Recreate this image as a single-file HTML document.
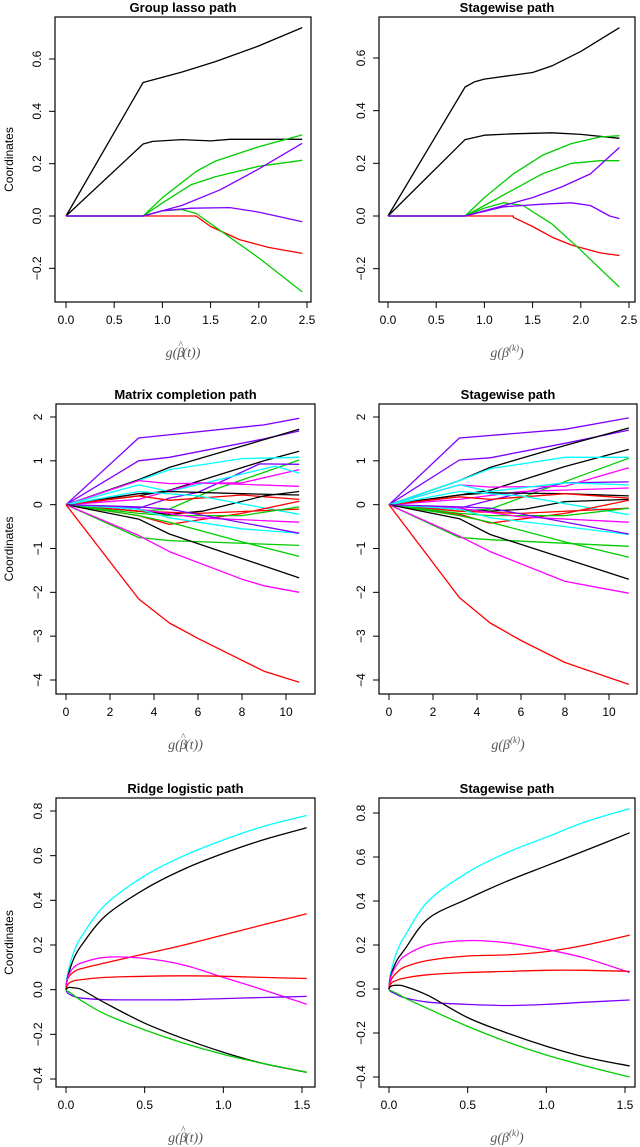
<!DOCTYPE html>
<html><head><meta charset="utf-8">
<style>
html,body{margin:0;padding:0;background:#fff;}
svg{display:block;}
text{font-family:"Liberation Sans",sans-serif;fill:#000;}
.t{font-weight:bold;font-size:13px;}
.tk{font-size:12px;}
.xl{font-family:"Liberation Serif",serif;font-style:italic;font-size:14px;fill:#555;}
</style></head>
<body>
<svg id="fig" width="640" height="1147" viewBox="0 0 640 1147" xmlns="http://www.w3.org/2000/svg"></svg>
<script>
const K='#000000',R='#ff0000',G='#00cd00',P='#7f00ff',C='#00ffff',M='#ff00ff';
// Panel 1: Group lasso path
const p1Colors=[K,K,G,G,R,G,P,P];
const p1Series=[
[[0,0],[0.8,0.51],[1.2,0.55],[1.4,0.573],[1.55,0.59],[2.0,0.65],[2.45,0.72]],
[[0,0],[0.8,0.275],[0.9,0.285],[1.2,0.292],[1.5,0.287],[1.7,0.293],[2.45,0.293]],
[[0,0],[0.8,0],[1.0,0.07],[1.35,0.17],[1.55,0.21],[2.0,0.265],[2.45,0.31]],
[[0,0],[0.8,0],[1.0,0.05],[1.3,0.12],[1.55,0.15],[2.0,0.19],[2.45,0.213]],
[[0,0],[1.35,0],[1.5,-0.04],[1.8,-0.09],[2.1,-0.12],[2.45,-0.143]],
[[0,0],[0.8,0],[1.0,0.02],[1.2,0.025],[1.35,0.01],[2.0,-0.16],[2.45,-0.29]],
[[0,0],[0.8,0],[1.2,0.04],[1.6,0.1],[2.0,0.18],[2.45,0.278]],
[[0,0],[0.8,0],[1.0,0.02],[1.3,0.03],[1.7,0.032],[2.0,0.015],[2.45,-0.022]]];
const p1XTicks=[0,0.5,1,1.5,2,2.5], p1XLabels=['0.0','0.5','1.0','1.5','2.0','2.5'];
const p1YTicks=[-0.2,0,0.2,0.4,0.6], p1YLabels=['−0.2','0.0','0.2','0.4','0.6'];
// Panel 2: Stagewise path
const p2Colors=[K,K,G,G,R,G,P,P];
const p2Series=[
[[0,0],[0.8,0.49],[0.9,0.51],[1.0,0.52],[1.3,0.535],[1.5,0.545],[1.7,0.57],[2.0,0.625],[2.4,0.715]],
[[0,0],[0.8,0.29],[1.0,0.307],[1.3,0.312],[1.7,0.316],[2.0,0.31],[2.4,0.295]],
[[0,0],[0.8,0],[1.0,0.07],[1.3,0.16],[1.6,0.23],[1.9,0.275],[2.2,0.3],[2.4,0.305]],
[[0,0],[0.8,0],[1.0,0.04],[1.3,0.1],[1.6,0.16],[1.9,0.2],[2.2,0.21],[2.4,0.21]],
[[0,0],[1.3,0],[1.3,-0.005],[1.5,-0.04],[1.7,-0.08],[1.9,-0.11],[2.0,-0.12],[2.2,-0.14],[2.4,-0.15]],
[[0,0],[0.8,0],[1.0,0.03],[1.2,0.05],[1.4,0.04],[1.7,-0.03],[2.0,-0.13],[2.2,-0.2],[2.4,-0.27]],
[[0,0],[0.8,0],[1.2,0.04],[1.5,0.07],[1.8,0.11],[2.1,0.16],[2.4,0.26]],
[[0,0],[0.8,0],[1.2,0.035],[1.6,0.045],[1.9,0.05],[2.1,0.04],[2.3,0.0],[2.4,-0.01]]];
const p2XTicks=p1XTicks, p2XLabels=p1XLabels, p2YTicks=p1YTicks, p2YLabels=p1YLabels;
// Panel 3: Matrix completion path
const p3Colors=[P,P,K,K,C,G,P,M,C,M,K,R,K,C,R,R,G,M,C,P,G,G,K,M,R];
const p3Series=[
[[0,0],[3.3,1.52],[9,1.82],[10.6,1.97]],
[[0,0],[3.3,1.0],[4.7,1.08],[9,1.5],[10.6,1.68]],
[[0,0],[3.3,0.57],[4.7,0.85],[10.6,1.72]],
[[0,0],[3.3,0.2],[4.7,0.33],[9,1.0],[10.6,1.22]],
[[0,0],[3.3,0.55],[4.7,0.8],[8,1.05],[10.6,1.08]],
[[0,0],[3.3,-0.15],[4.7,-0.1],[6.5,0.3],[10.6,1.02]],
[[0,0],[3.3,-0.08],[4.7,0.15],[6,0.28],[8.8,0.93],[10.6,0.92]],
[[0,0],[3.3,0.55],[4.7,0.48],[8,0.5],[10.6,0.8]],
[[0,0],[3.3,0.45],[4.7,0.3],[9.5,0.88],[10.6,0.72]],
[[0,0],[3.3,0.12],[6,0.5],[10.6,0.42]],
[[0,0],[3.3,0.25],[4.7,0.3],[8,0.25],[10.6,0.22]],
[[0,0],[3.3,0.2],[4.7,0.1],[8,0.22],[10.6,0.12]],
[[0,0],[3.3,-0.15],[4.7,-0.22],[6.2,-0.15],[9,0.2],[10.6,0.3]],
[[0,0],[3.3,0.3],[6,0.2],[10.6,-0.22]],
[[0,0],[3.3,-0.25],[4.7,-0.45],[8,-0.2],[10.6,0.08]],
[[0,0],[3.3,-0.15],[6,-0.2],[10.6,-0.1]],
[[0,0],[3.3,-0.2],[4.7,-0.25],[8,-0.25],[10.6,-0.05]],
[[0,0],[3.3,-0.1],[6,-0.3],[10.6,-0.4]],
[[0,0],[3.3,-0.1],[4.7,-0.3],[8,-0.55],[10.6,-0.65]],
[[0,0],[3.3,-0.05],[4.7,-0.1],[10.6,-0.65]],
[[0,0],[3.3,-0.75],[4.7,-0.82],[10.6,-0.93]],
[[0,0],[3.3,-0.25],[4.7,-0.4],[8,-0.85],[10.6,-1.18]],
[[0,0],[3.3,-0.33],[4.7,-0.67],[10.6,-1.67]],
[[0,0],[3.3,-0.7],[4.7,-1.07],[8,-1.7],[9,-1.85],[10.6,-2.0]],
[[0,0],[3.3,-2.15],[4.7,-2.7],[6,-3.05],[8,-3.55],[9,-3.8],[10.6,-4.05]]];
const p3XTicks=[0,2,4,6,8,10], p3XLabels=['0','2','4','6','8','10'];
const p3YTicks=[-4,-3,-2,-1,0,1,2], p3YLabels=['−4','−3','−2','−1','0','1','2'];
// Panel 4: Stagewise path
const p4Colors=p3Colors;
const p4Series=[
[[0,0],[3.2,1.52],[8,1.72],[10.9,1.98]],
[[0,0],[3.2,1.02],[4.6,1.07],[8,1.4],[10.9,1.7]],
[[0,0],[3.2,0.55],[4.6,0.85],[8,1.35],[10.9,1.75]],
[[0,0],[3.2,0.22],[4.6,0.33],[8,0.87],[10.9,1.26]],
[[0,0],[3.2,0.55],[4.6,0.82],[8,1.08],[10.9,1.08]],
[[0,0],[3.2,-0.15],[4.6,-0.1],[6.5,0.25],[10.9,1.06]],
[[0,0],[3.2,-0.08],[4.6,0.1],[8,0.5],[10.9,0.52]],
[[0,0],[3.2,0.45],[4.6,0.4],[8,0.42],[10.9,0.84]],
[[0,0],[3.2,0.45],[4.6,0.3],[8,0.5],[10.9,0.45]],
[[0,0],[3.2,0.12],[6,0.3],[10.9,0.38]],
[[0,0],[3.2,0.22],[4.6,0.27],[8,0.25],[10.9,0.2]],
[[0,0],[3.2,0.18],[4.6,0.12],[8,0.25],[10.9,0.15]],
[[0,0],[3.2,-0.1],[4.6,-0.15],[6.2,-0.1],[8,0.07],[10.9,0.12]],
[[0,0],[3.2,0.3],[6,0.2],[10.9,-0.23]],
[[0,0],[3.2,-0.22],[4.6,-0.42],[8,-0.2],[10.9,0.1]],
[[0,0],[3.2,-0.15],[6,-0.2],[10.9,-0.08]],
[[0,0],[3.2,-0.2],[4.6,-0.25],[8,-0.25],[10.9,-0.08]],
[[0,0],[3.2,-0.08],[6,-0.28],[10.9,-0.4]],
[[0,0],[3.2,-0.1],[4.6,-0.3],[8,-0.5],[10.9,-0.68]],
[[0,0],[3.2,-0.05],[4.6,-0.08],[10.9,-0.67]],
[[0,0],[3.2,-0.75],[4.6,-0.8],[10.9,-0.95]],
[[0,0],[3.2,-0.25],[4.6,-0.4],[8,-0.85],[10.9,-1.2]],
[[0,0],[3.2,-0.32],[4.6,-0.68],[10.9,-1.7]],
[[0,0],[3.2,-0.72],[4.6,-1.07],[8,-1.75],[10.9,-2.02]],
[[0,0],[3.2,-2.12],[4.6,-2.7],[6,-3.1],[8,-3.6],[10.9,-4.1]]];
const p4XTicks=p3XTicks, p4XLabels=p3XLabels, p4YTicks=p3YTicks, p4YLabels=p3YLabels;
// Panels 5/6: ridge logistic
const p5X=[0,0.005,0.02,0.05,0.1,0.25,0.5,0.75,1.0,1.25,1.53];
const p5Colors=[C,K,R,M,R,P,K,G];
const p5Y=[
[0,0.05,0.1,0.17,0.24,0.38,0.51,0.6,0.67,0.73,0.78],
[0,0.04,0.08,0.14,0.2,0.33,0.45,0.54,0.61,0.67,0.725],
[0,0.035,0.06,0.08,0.095,0.12,0.16,0.2,0.245,0.29,0.34],
[0,0.035,0.07,0.1,0.12,0.145,0.14,0.11,0.055,0.0,-0.065],
[0,0.015,0.03,0.04,0.045,0.055,0.06,0.062,0.06,0.055,0.05],
[0,-0.01,-0.02,-0.03,-0.038,-0.045,-0.046,-0.045,-0.04,-0.035,-0.03],
[0,0.005,0.01,0.008,0.0,-0.06,-0.15,-0.22,-0.28,-0.33,-0.37],
[0,-0.005,-0.01,-0.025,-0.05,-0.11,-0.18,-0.24,-0.29,-0.33,-0.37]];
const p6X=p5X;
const p6Colors=p5Colors;
const p6Y=[
[0,0.05,0.1,0.17,0.24,0.4,0.53,0.62,0.69,0.76,0.82],
[0,0.04,0.08,0.13,0.18,0.32,0.41,0.49,0.56,0.63,0.71],
[0,0.025,0.05,0.075,0.1,0.13,0.15,0.155,0.17,0.2,0.245],
[0,0.035,0.07,0.11,0.15,0.2,0.22,0.21,0.18,0.14,0.075],
[0,0.015,0.03,0.04,0.05,0.065,0.075,0.08,0.085,0.085,0.08],
[0,-0.008,-0.015,-0.025,-0.04,-0.06,-0.07,-0.075,-0.07,-0.06,-0.05],
[0,0.008,0.015,0.017,0.012,-0.03,-0.13,-0.2,-0.26,-0.31,-0.35],
[0,-0.005,-0.01,-0.02,-0.04,-0.09,-0.17,-0.24,-0.3,-0.35,-0.4]];
const p5XTicks=[0,0.5,1,1.5], p5XLabels=['0.0','0.5','1.0','1.5'];
const p5YTicks=[-0.4,-0.2,0,0.2,0.4,0.6,0.8], p5YLabels=['−0.4','−0.2','0.0','0.2','0.4','0.6','0.8'];

const NS='http://www.w3.org/2000/svg';
const svg=document.getElementById('fig');
function mk(tag,attrs,parent,txt){const e=document.createElementNS(NS,tag);for(const k in attrs)e.setAttribute(k,attrs[k]);if(txt!==undefined)e.textContent=txt;(parent||svg).appendChild(e);return e;}
function zip(xs,ys){return xs.map((x,i)=>[x,ys[i]]);}
function smoothPath(pts){
  let d='M'+pts[0][0].toFixed(1)+' '+pts[0][1].toFixed(1);
  for(let i=0;i<pts.length-1;i++){
    const p0=pts[Math.max(0,i-1)],p1=pts[i],p2=pts[i+1],p3=pts[Math.min(pts.length-1,i+2)];
    const c1=[p1[0]+(p2[0]-p0[0])/6,p1[1]+(p2[1]-p0[1])/6];
    const c2=[p2[0]-(p3[0]-p1[0])/6,p2[1]-(p3[1]-p1[1])/6];
    d+=' C'+c1.map(v=>v.toFixed(1)).join(' ')+' '+c2.map(v=>v.toFixed(1)).join(' ')+' '+p2[0].toFixed(1)+' '+p2[1].toFixed(1);
  }
  return d;
}

function panel(cfg){
  const g=mk('g',{});
  
  
  const [l,t,r,b]=cfg.box;
  const sx=v=>cfg.xa[1]+(v-cfg.xa[0])*(cfg.xb[1]-cfg.xa[1])/(cfg.xb[0]-cfg.xa[0]);
  const sy=v=>cfg.ya[1]+(v-cfg.ya[0])*(cfg.yb[1]-cfg.ya[1])/(cfg.yb[0]-cfg.ya[0]);
  const title=mk('text',{x:(l+r)/2,y:t-5,'text-anchor':'middle',class:'t'},g,cfg.title);
  
  
  cfg.series.forEach((s,i)=>{
    const px=s.map(p=>[sx(p[0]),sy(p[1])]);
    const d=cfg.smooth?smoothPath(px):px.map((p,j)=>(j?'L':'M')+p[0].toFixed(1)+' '+p[1].toFixed(1)).join(' ');
    const pth=mk('path',{d:d,fill:'none',stroke:cfg.colors[i],'stroke-width':1.3,'stroke-linejoin':'round'},g);
    
    
  });
  const box=mk('rect',{x:l,y:t,width:r-l,height:b-t,fill:'none',stroke:'#000','stroke-width':1.2},g);
  
  
  cfg.xt.forEach((v,i)=>{
    const x=sx(v);
    mk('line',{x1:x,y1:b,x2:x,y2:b+6,stroke:'#000','stroke-width':1},g);
    const tl=mk('text',{x:x,y:b+22,'text-anchor':'middle',class:'tk'},g,cfg.xl[i]);
    
    
  });
  cfg.yt.forEach((v,i)=>{
    const y=sy(v);
    mk('line',{x1:l,y1:y,x2:l-6,y2:y,stroke:'#000','stroke-width':1},g);
    const tl=mk('text',{x:l-14,y:y,'text-anchor':'middle',class:'tk',transform:'rotate(-90 '+(l-14)+' '+y+')'},g,cfg.yl[i]);
    
    
  });
  const xl=mk('text',{x:(l+r)/2,y:b+55,'text-anchor':'middle',class:'xl'},g);
  
  
  if(cfg.hat){
    mk('tspan',{},xl,'g(');
    mk('tspan',{},xl,'β');
    mk('tspan',{dx:'-6',dy:'-9','font-size':'10'},xl,'^');
    mk('tspan',{dy:'9'},xl,'(t))');
  } else {
    mk('tspan',{},xl,'g(β');
    mk('tspan',{dy:'-6','font-size':'9'},xl,'(k)');
    mk('tspan',{dy:'6'},xl,')');
  }
  if(cfg.ylabel){
    const yc=(t+b)/2;
    const yl=mk('text',{x:13,y:yc,'text-anchor':'middle','font-size':'12',transform:'rotate(-90 13 '+yc+')'},g,cfg.ylabel);
    
    
  }
}
panel({name:'group-lasso-panel',title:'Group lasso path',box:[55,17,311,302],xa:[0,66],xb:[2.5,307],ya:[0,216],yb:[0.6,59],series:p1Series,colors:p1Colors,xt:p1XTicks,xl:p1XLabels,yt:p1YTicks,yl:p1YLabels,hat:true,ylabel:'Coordinates'});
panel({name:'stagewise-panel-1',title:'Stagewise path',box:[379,17,635,302],xa:[0,388],xb:[2.5,629],ya:[0,216],yb:[0.6,58],series:p2Series,colors:p2Colors,xt:p2XTicks,xl:p2XLabels,yt:p2YTicks,yl:p2YLabels,hat:false});
panel({name:'matrix-completion-panel',title:'Matrix completion path',box:[56,404,315,694],xa:[0,66],xb:[10,286],ya:[2,417],yb:[-4,680],series:p3Series,colors:p3Colors,xt:p3XTicks,xl:p3XLabels,yt:p3YTicks,yl:p3YLabels,hat:true,ylabel:'Coordinates'});
panel({name:'stagewise-panel-2',title:'Stagewise path',box:[379,404,637,694],xa:[0,389],xb:[10,609],ya:[2,417],yb:[-4,680],series:p4Series,colors:p4Colors,xt:p4XTicks,xl:p4XLabels,yt:p4YTicks,yl:p4YLabels,hat:false});
panel({name:'ridge-logistic-panel',title:'Ridge logistic path',box:[56,798,315,1087],xa:[0,66],xb:[1.5,302],ya:[0.8,811],yb:[-0.4,1079],series:p5Y.map(ys=>zip(p5X,ys)),colors:p5Colors,xt:p5XTicks,xl:p5XLabels,yt:p5YTicks,yl:p5YLabels,hat:true,smooth:true,ylabel:'Coordinates'});
panel({name:'stagewise-panel-3',title:'Stagewise path',box:[379,798,635,1087],xa:[0,389],xb:[1.5,625],ya:[0.8,813],yb:[-0.4,1077],series:p6Y.map(ys=>zip(p6X,ys)),colors:p6Colors,xt:p5XTicks,xl:p5XLabels,yt:p5YTicks,yl:p5YLabels,hat:false,smooth:true});
</script>
</body></html>
